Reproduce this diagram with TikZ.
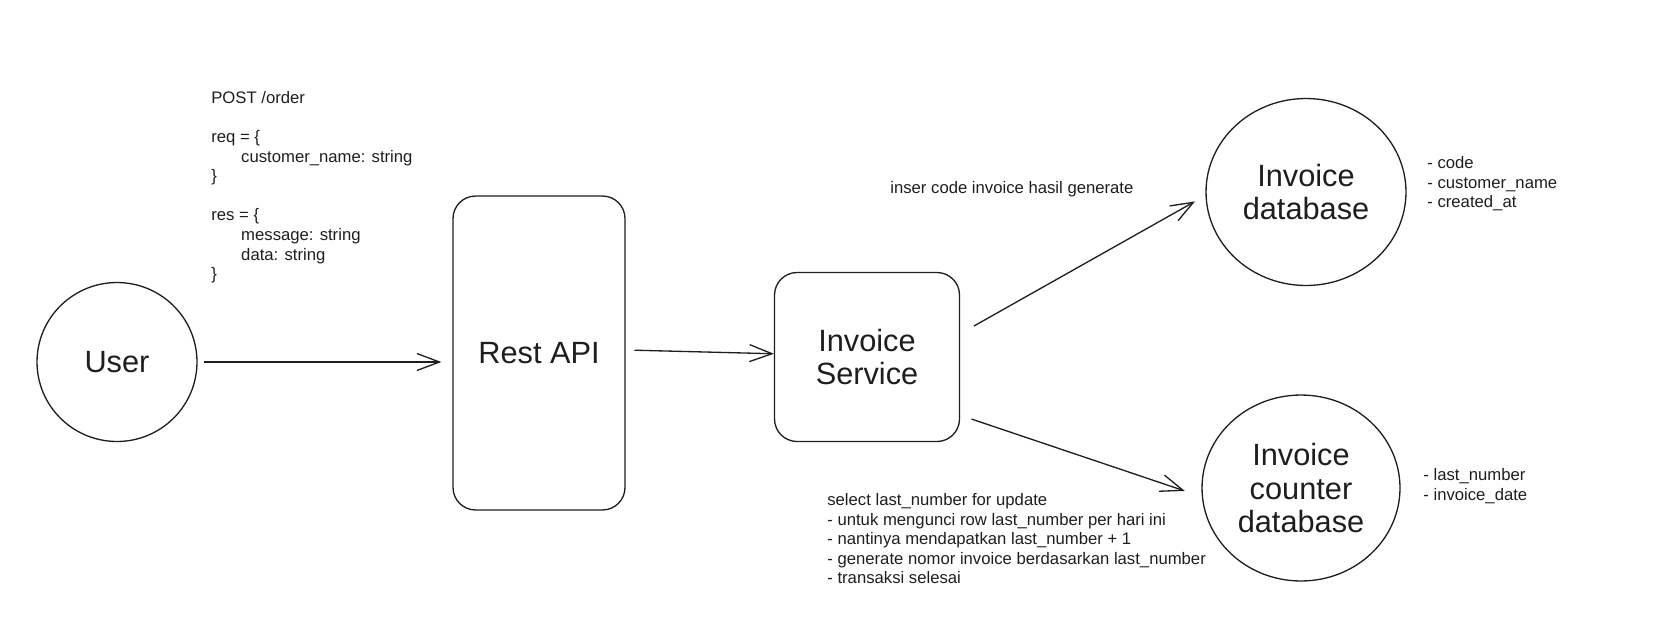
\documentclass[tikz,border=0pt]{standalone}
\usepackage{fontspec}
\setmainfont{Liberation Sans}
\usetikzlibrary{arrows.meta,shapes.geometric}
\definecolor{ink}{HTML}{1E1E1E}

\begin{document}
\begin{tikzpicture}[x=0.02cm, y=-0.02cm,
    block/.style={draw=ink, line width=0.75pt, rounded corners=0.45cm, align=center, text=ink, font=\fontsize{17.5}{19}\selectfont},
    round/.style={draw=ink, line width=0.75pt, ellipse, inner sep=0pt, align=center, text=ink, font=\fontsize{17.5}{19}\selectfont},
    note/.style={anchor=north west, inner sep=0pt, align=left, text=ink, font=\fontsize{9.5}{11.15}\selectfont},
    arrow/.style={-{Straight Barb[length=4.5mm,width=3.4mm]}, line width=0.75pt, draw=ink}
  ]
    \useasboundingbox (0,0) rectangle (1672,633);

    \node[round, minimum width=3.2cm, minimum height=3.18cm] (user) at (117,362) {User};
    \node[block, minimum width=3.44cm, minimum height=6.28cm] (rest) at (539,353) {Rest API};
    \node[block, minimum width=3.7cm, minimum height=3.38cm] (service) at (867,357) {Invoice\\Service};
    \node[round, minimum width=4cm, minimum height=3.74cm] (invdb) at (1306,192) {Invoice\\database};
    \node[round, minimum width=3.96cm, minimum height=3.72cm] (counterdb) at (1301,488) {Invoice\\counter\\database};

    \node[note] (request) at (211,91) {POST /order\\[11.15pt]
      req = \{\\
      \hspace*{17pt}customer\_name: string\\
      \}\\[11.15pt]
      res = \{\\
      \hspace*{17pt}message: string\\
      \hspace*{17pt}data: string\\
      \}};
    \node[note] (insertnote) at (890,181) {inser code invoice hasil generate};
    \node[note] (selectnote) at (827,493) {select last\_number for update\\
      - untuk mengunci row last\_number per hari ini\\
      - nantinya mendapatkan last\_number + 1\\
      - generate nomor invoice berdasarkan last\_number\\
      - transaksi selesai};
    \node[note] (invfields) at (1427,156) {- code\\- customer\_name\\- created\_at};
    \node[note] (counterfields) at (1423,468) {- last\_number\\- invoice\_date};

    \draw[arrow, shorten <=3.4pt, shorten >=6.3pt] (user.east) -- (user.east -| rest.west);
    \draw[arrow, shorten <=5pt] (rest.2) -- (service.178);
    \draw[arrow, shorten <=9pt, shorten >=6.8pt] (service.14) -- (invdb.182);
    \draw[arrow, shorten <=6.8pt, shorten >=10.2pt] (service.-32) -- (counterdb.185);
  \end{tikzpicture}
\end{document}
